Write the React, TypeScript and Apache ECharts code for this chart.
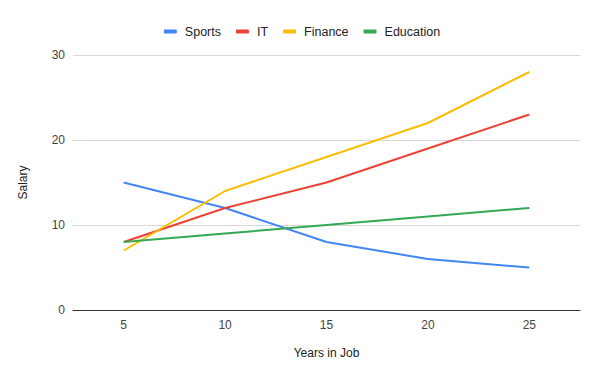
import React, { useEffect, useRef } from "react";
import * as echarts from "echarts";

const categories = ["5", "10", "15", "20", "25"];
const sports = [15, 12, 8, 6, 5];
const it = [8, 12, 15, 19, 23];
const finance = [7, 14, 18, 22, 28];
const education = [8, 9, 10, 11, 12];
const seriesNames = ["Sports", "IT", "Finance", "Education"];
const colors = ["#4285F4", "#EA4335", "#FBBC04", "#34A853"];

export default function App() {
  const ref = useRef<HTMLDivElement>(null);
  useEffect(() => {
    if (!ref.current) return;
    const chart = echarts.init(ref.current, null, { renderer: "svg" });
    const data = [sports, it, finance, education];
    chart.setOption({
      animation: false,
      color: colors,
      textStyle: { fontFamily: "'Liberation Sans', Arial, sans-serif" },
      legend: {
        top: 20,
        left: "center",
        itemWidth: 13,
        itemHeight: 4,
        itemGap: 15,
        icon: "roundRect",
        textStyle: { color: "#222", fontSize: 12.5, padding: [0, 0, 0, 3] },
        data: seriesNames,
      },
      grid: { left: 73, right: 24, top: 55, bottom: 62 },
      xAxis: {
        type: "category",
        data: categories,
        boundaryGap: true,
        name: "Years in Job",
        nameLocation: "middle",
        nameGap: 37,
        nameTextStyle: { color: "#222", fontSize: 12 },
        axisLine: { lineStyle: { color: "#333", width: 1 } },
        axisTick: { show: false },
        axisLabel: { color: "#444", fontSize: 12, margin: 9 },
      },
      yAxis: {
        type: "value",
        min: 0,
        max: 30,
        interval: 10,
        name: "Salary",
        nameLocation: "middle",
        nameGap: 44,
        nameTextStyle: { color: "#222", fontSize: 12 },
        axisLine: { show: false },
        axisTick: { show: false },
        axisLabel: { color: "#444", fontSize: 12, margin: 8 },
        splitLine: { lineStyle: { color: "#d6d6d6", width: 1 } },
      },
      series: seriesNames.map((name, i) => ({
        name,
        type: "line",
        data: data[i],
        showSymbol: false,
        symbol: "none",
        lineStyle: { width: 2, color: colors[i] },
      })),
    });
    return () => chart.dispose();
  }, []);
  return <div ref={ref} style={{ width: 604, height: 372, position: "absolute", left: 0, top: 0 }} />;
}
